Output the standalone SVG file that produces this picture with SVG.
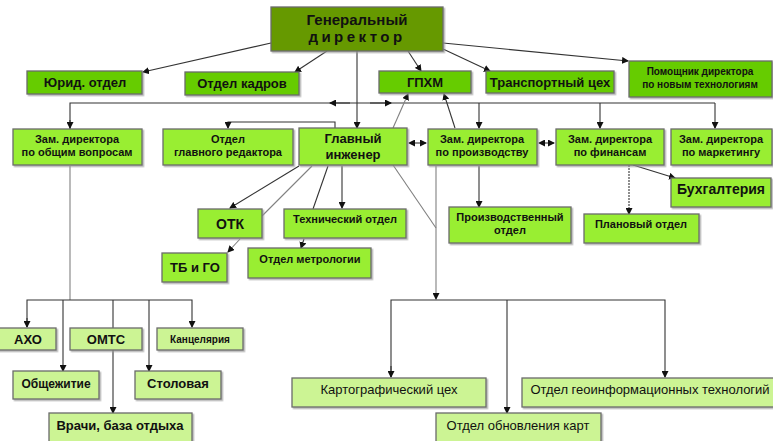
<svg xmlns="http://www.w3.org/2000/svg" width="773" height="441" viewBox="0 0 773 441">
<defs>
<marker id="ah" markerWidth="7" markerHeight="7" refX="6" refY="3.5" orient="auto" markerUnits="userSpaceOnUse">
<path d="M0,0 L7,3.5 L0,7 Z" fill="#111"/>
</marker>
<marker id="ahs" markerWidth="7" markerHeight="7" refX="1" refY="3.5" orient="auto" markerUnits="userSpaceOnUse">
<path d="M7,0 L0,3.5 L7,7 Z" fill="#111"/>
</marker>
<filter id="sh" x="-5%" y="-5%" width="115%" height="130%">
<feDropShadow dx="1.5" dy="1.5" stdDeviation="0.6" flood-color="#999" flood-opacity="0.7"/>
</filter>
</defs>
<style>
text{font-family:"Liberation Sans",Arial,sans-serif;font-weight:bold;fill:#111;text-anchor:middle}
.b rect{stroke:#6b6b6b;stroke-width:1.3;filter:url(#sh)}
.dk{fill:#669900}
.g1{fill:#66cc00}
.g2{fill:#99ee33}
.g3{fill:#ccf494}
.c line,.c path,.c polyline{stroke:#333;stroke-width:1.1;fill:none}
.c .lt{stroke:#808080}
.a{marker-end:url(#ah)}
.f10{font-size:10px}.f11{font-size:11px}.f12{font-size:12px}.f13{font-size:13px}.f14{font-size:14px}.f15{font-size:15px}
.n{font-weight:normal}
</style>
<rect width="773" height="441" fill="#ffffff"/>

<g id="connectors" class="c">
<!-- Ген директор -->
<line x1="271" y1="43" x2="143" y2="72" class="a"/>
<line x1="327" y1="51" x2="295" y2="72" class="a"/>
<line x1="357" y1="51" x2="357" y2="128" class="a"/>
<line x1="408" y1="51" x2="421" y2="71" class="a"/>
<line x1="443" y1="49" x2="490" y2="71" class="a"/>
<line x1="443" y1="43" x2="628" y2="61" class="a"/>
<!-- bus -->
<polyline points="70,129 70,103 715,103"/>
<line x1="70" y1="120" x2="70" y2="128" class="a"/>
<line x1="350" y1="103" x2="330" y2="103" class="a"/>
<line x1="370" y1="103" x2="391" y2="103" class="a"/>
<line x1="479" y1="103" x2="479" y2="128" class="a"/>
<line x1="600" y1="103" x2="600" y2="128" class="a"/>
<line x1="715" y1="103" x2="715" y2="128" class="a"/>
<!-- to ГПХМ -->
<line x1="393" y1="128" x2="408" y2="94" class="a lt"/>
<line x1="455" y1="128" x2="444" y2="94" class="a"/>
<!-- Отдел главного редактора -->
<polyline points="335,129 335,122 228,122 228,128" class="a"/>
<!-- double arrows -->
<line x1="409" y1="143" x2="426" y2="143" class="a" marker-start="url(#ahs)"/>
<line x1="539" y1="143" x2="554" y2="143" class="a" marker-start="url(#ahs)"/>
<!-- Главный инженер children -->
<line x1="299" y1="166" x2="230" y2="208" class="a"/>
<line x1="312" y1="166" x2="262" y2="216" class="lt"/>
<line x1="328" y1="166" x2="313" y2="209"/>
<line x1="304" y1="239" x2="301" y2="248" class="a"/>
<line x1="342" y1="166" x2="342" y2="208" class="a"/>
<line x1="240" y1="239" x2="228" y2="252" class="a lt"/>
<line x1="393" y1="165" x2="436" y2="228" class="lt"/>
<!-- Зам по производству -->
<line x1="436" y1="166" x2="436" y2="299" class="a lt"/>
<line x1="479" y1="166" x2="479" y2="207" class="a"/>
<polyline points="391,377 391,300 665,300 665,377" class="a"/>
<line x1="391" y1="366" x2="391" y2="377" class="a"/>
<line x1="507" y1="300" x2="507" y2="413" class="a"/>
<!-- Зам по финансам -->
<line x1="633" y1="165" x2="675" y2="178" class="a"/>
<line x1="629" y1="165" x2="629" y2="214" class="a" stroke-dasharray="2,1"/>
<!-- Зам по общим -->
<line x1="70" y1="166" x2="70" y2="300" class="lt"/>
<polyline points="27,327 27,300 192,300 192,327" class="a"/>
<line x1="27" y1="318" x2="27" y2="327" class="a"/>
<line x1="63" y1="300" x2="63" y2="371" class="a"/>
<line x1="113" y1="300" x2="113" y2="413" class="a"/>
<line x1="149" y1="300" x2="149" y2="371" class="a"/>
</g>

<g id="gen" class="b"><rect x="271" y="7" width="172" height="44" class="dk"/>
<text x="357" y="25" class="f15">Генеральный</text><text x="357" y="42" class="f15" letter-spacing="3.5">директор</text></g>

<g id="jurid" class="b"><rect x="27" y="71" width="115" height="23" class="g1"/><text x="85" y="87" class="f13">Юрид. отдел</text></g>
<g id="kadry" class="b"><rect x="185" y="72" width="114" height="23" class="g1"/><text x="242" y="88" class="f13">Отдел кадров</text></g>
<g id="gphm" class="b"><rect x="379" y="71" width="92" height="22" class="g1"/><text x="425" y="87" class="f13">ГПХМ</text></g>
<g id="transport" class="b"><rect x="486" y="71" width="128" height="22" class="g1"/><text x="550" y="87" class="f13">Транспортный цех</text></g>
<g id="pomoshnik" class="b"><rect x="629" y="61" width="143" height="36" class="g1"/><text x="700" y="75" class="f10">Помощник директора</text><text x="700" y="88" class="f10">по новым технологиям</text></g>

<g id="zam-obsh" class="b"><rect x="13" y="129" width="129" height="36" class="g2"/><text x="77" y="143" class="f11">Зам. директора</text><text x="77" y="156" class="f11">по общим вопросам</text></g>
<g id="red" class="b"><rect x="163" y="129" width="130" height="36" class="g2"/><text x="228" y="143" class="f11">Отдел</text><text x="228" y="156" class="f11">главного редактора</text></g>
<g id="inzh" class="b"><rect x="299" y="128" width="108" height="37" class="g2"/><text x="353" y="143" class="f13">Главный</text><text x="353" y="159" class="f13">инженер</text></g>
<g id="zam-proizv" class="b"><rect x="428" y="129" width="109" height="36" class="g2"/><text x="482" y="143" class="f11">Зам. директора</text><text x="482" y="156" class="f11">по производству</text></g>
<g id="zam-fin" class="b"><rect x="556" y="129" width="108" height="36" class="g2"/><text x="610" y="143" class="f11">Зам. директора</text><text x="610" y="156" class="f11">по финансам</text></g>
<g id="zam-mark" class="b"><rect x="671" y="129" width="101" height="36" class="g2"/><text x="721" y="143" class="f11">Зам. директора</text><text x="721" y="156" class="f11">по маркетингу</text></g>

<g id="otk" class="b"><rect x="198" y="209" width="64" height="29" class="g2"/><text x="230" y="229" class="f14">ОТК</text></g>
<g id="tech" class="b"><rect x="284" y="209" width="122" height="29" class="g2"/><text x="345" y="223" class="f11">Технический отдел</text></g>
<g id="tbgo" class="b"><rect x="162" y="253" width="65" height="29" class="g2"/><text x="195" y="272" class="f13">ТБ и ГО</text></g>
<g id="metro" class="b"><rect x="248" y="248" width="123" height="30" class="g2"/><text x="310" y="263" class="f11">Отдел метрологии</text></g>
<g id="proizv" class="b"><rect x="449" y="207" width="122" height="36" class="g2"/><text x="510" y="221" class="f11">Производственный</text><text x="510" y="234" class="f11">отдел</text></g>
<g id="buh" class="b"><rect x="671" y="178" width="100" height="29" class="g2"/><text x="721" y="194" class="f14">Бухгалтерия</text></g>
<g id="plan" class="b"><rect x="584" y="214" width="115" height="29" class="g2"/><text x="641" y="228" class="f11">Плановый отдел</text></g>

<g id="aho" class="b"><rect x="-2" y="328" width="58" height="22" class="g3"/><text x="28" y="344" class="f13">АХО</text></g>
<g id="omts" class="b"><rect x="70" y="328" width="72" height="22" class="g3"/><text x="106" y="344" class="f13">ОМТС</text></g>
<g id="kanc" class="b"><rect x="157" y="328" width="86" height="22" class="g3"/><text x="200" y="343" class="f10">Канцелярия</text></g>
<g id="obsh" class="b"><rect x="13" y="371" width="86" height="28" class="g3"/><text x="56" y="388" class="f12">Общежитие</text></g>
<g id="stol" class="b"><rect x="135" y="371" width="86" height="28" class="g3"/><text x="178" y="388" class="f13">Столовая</text></g>
<g id="vrachi" class="b"><rect x="49" y="413" width="143" height="32" class="g3"/><text x="120" y="430" class="f13">Врачи, база отдыха</text></g>

<g id="karto" class="b"><rect x="292" y="378" width="194" height="29" class="g3"/><text x="389" y="394" class="f13 n">Картографический цех</text></g>
<g id="geo" class="b"><rect x="522" y="378" width="255" height="29" class="g3"/><text x="650" y="394" class="f13 n">Отдел геоинформационных технологий</text></g>
<g id="obnov" class="b"><rect x="436" y="413" width="165" height="32" class="g3"/><text x="518" y="430" class="f13 n">Отдел обновления карт</text></g>
</svg>
